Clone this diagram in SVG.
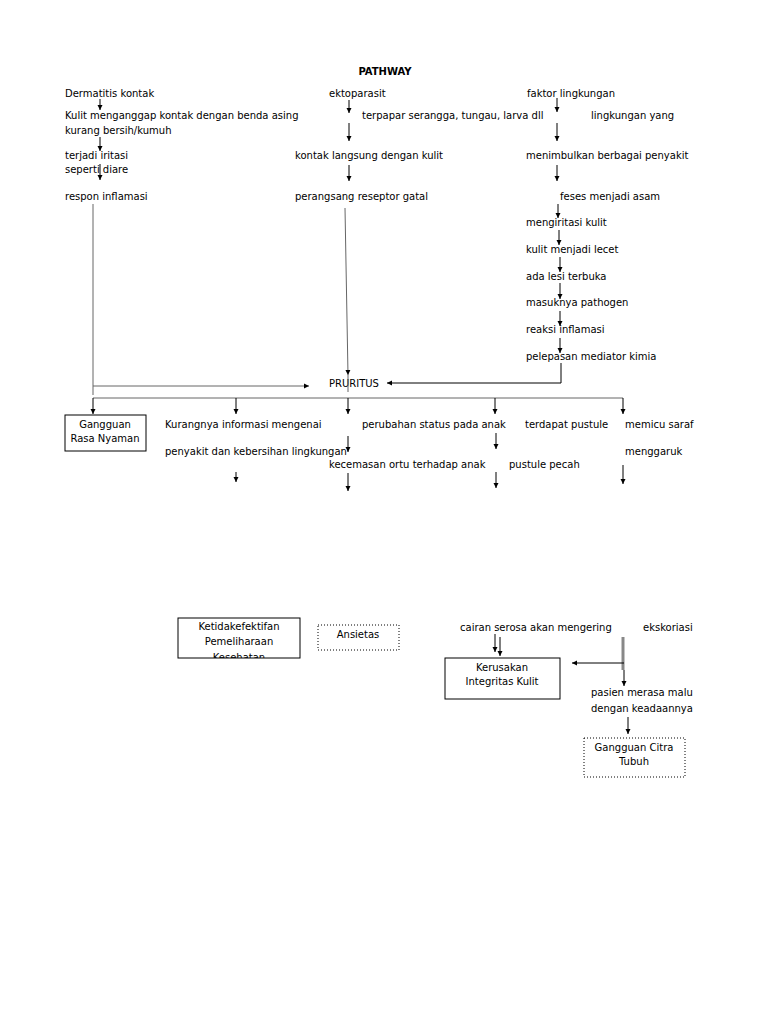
<svg xmlns="http://www.w3.org/2000/svg" width="768" height="1024" viewBox="0 0 768 1024">
<style>
text{font-family:"DejaVu Sans","Liberation Sans",sans-serif;font-size:10px;fill:#000}
.c{text-anchor:middle}
.b{font-weight:bold}
.ln{stroke:#000;stroke-width:1;fill:none}
.g{stroke:#666;stroke-width:1;fill:none}
.a{marker-end:url(#ah)}
.box{fill:#fff;stroke:#000;stroke-width:1}
.dot{fill:#fff;stroke:#000;stroke-width:1;stroke-dasharray:1,2}
</style>
<defs>
<marker id="ah" markerUnits="userSpaceOnUse" markerWidth="6" markerHeight="6" refX="5" refY="3" orient="auto"><path d="M0,0.5 L5,3 L0,5.5 z" fill="#000"/></marker>
<clipPath id="clipK"><rect x="178" y="618" width="122" height="40"/></clipPath>
</defs>
<rect width="768" height="1024" fill="#fff"/>
<g id="title"><text x="385" y="75" class="c b">PATHWAY</text></g>
<g id="n-dermatitis"><text x="65" y="97">Dermatitis kontak</text></g>
<g id="n-ekto"><text x="329" y="97">ektoparasit</text></g>
<g id="n-faktor"><text x="527" y="97">faktor lingkungan</text></g>
<g id="n-kulit"><text x="65" y="119">Kulit menganggap kontak dengan benda asing</text><text x="65" y="134">kurang bersih/kumuh</text></g>
<g id="n-terpapar"><text x="362" y="119">terpapar serangga, tungau, larva dll</text></g>
<g id="n-lingk"><text x="591" y="119">lingkungan yang</text></g>
<g id="n-iritasi"><text x="65" y="159">terjadi iritasi</text><text x="65" y="173">seperti diare</text></g>
<g id="n-kontak"><text x="295" y="159">kontak langsung dengan kulit</text></g>
<g id="n-menimbulkan"><text x="526" y="159">menimbulkan berbagai penyakit</text></g>
<g id="n-respon"><text x="65" y="200">respon inflamasi</text></g>
<g id="n-perangsang"><text x="295" y="200">perangsang reseptor gatal</text></g>
<g id="n-feses"><text x="560" y="200">feses menjadi asam</text></g>
<g id="n-mengiritasi"><text x="526" y="226">mengiritasi kulit</text></g>
<g id="n-lecet"><text x="526" y="253">kulit menjadi lecet</text></g>
<g id="n-lesi"><text x="526" y="280">ada lesi terbuka</text></g>
<g id="n-pathogen"><text x="526" y="306">masuknya pathogen</text></g>
<g id="n-reaksi"><text x="526" y="333">reaksi inflamasi</text></g>
<g id="n-mediator"><text x="526" y="360">pelepasan mediator kimia</text></g>
<g id="n-pruritus"><text x="329" y="387">PRURITUS</text></g>
<g id="n-rasa"><rect x="65" y="415" width="81" height="36" class="box"/><text x="105" y="428" class="c">Gangguan</text><text x="105" y="442" class="c">Rasa Nyaman</text></g>
<g id="n-kurang"><text x="165" y="428">Kurangnya informasi mengenai</text><text x="165" y="455">penyakit dan kebersihan lingkungan</text></g>
<g id="n-perubahan"><text x="362" y="428">perubahan status pada anak</text></g>
<g id="n-pustule"><text x="525" y="428">terdapat pustule</text></g>
<g id="n-memicu"><text x="625" y="428">memicu saraf</text></g>
<g id="n-kecemasan"><text x="329" y="468">kecemasan ortu terhadap anak</text></g>
<g id="n-pecah"><text x="509" y="468">pustule pecah</text></g>
<g id="n-garuk"><text x="625" y="455">menggaruk</text></g>
<g id="n-ketidak"><rect x="178" y="618" width="122" height="40" class="box"/><g clip-path="url(#clipK)"><text x="239" y="630" class="c">Ketidakefektifan</text><text x="239" y="645" class="c">Pemeliharaan</text><text x="239" y="661" class="c">Kesehatan</text></g></g>
<g id="n-ansietas"><rect x="318" y="625" width="81" height="25" class="dot"/><text x="358" y="638" class="c">Ansietas</text></g>
<g id="n-cairan"><text x="460" y="631">cairan serosa akan mengering</text></g>
<g id="n-ekskoriasi"><text x="643" y="631">ekskoriasi</text></g>
<g id="n-kerusakan"><rect x="445" y="658" width="115" height="41" class="box"/><text x="502" y="671" class="c">Kerusakan</text><text x="502" y="685" class="c">Integritas Kulit</text></g>
<g id="n-malu"><text x="591" y="696">pasien merasa malu</text><text x="591" y="712">dengan keadaannya</text></g>
<g id="n-citra"><rect x="584" y="738" width="101" height="39" class="dot"/><text x="634" y="751" class="c">Gangguan Citra</text><text x="634" y="765" class="c">Tubuh</text></g>
<g id="connectors">
<path d="M100,99 V110" class="ln a"/>
<path d="M100,137 V151" class="ln a"/>
<path d="M100,164 V180" class="ln a"/>
<path d="M349,100 V113" class="ln a"/>
<path d="M349,123 V141" class="ln a"/>
<path d="M349,165 V181" class="ln a"/>
<path d="M557,98 V112" class="ln a"/>
<path d="M557,123 V141" class="ln a"/>
<path d="M557,165 V181" class="ln a"/>
<path d="M558,204 V218" class="ln a"/>
<path d="M559,230 V245" class="ln a"/>
<path d="M560,257 V272" class="ln a"/>
<path d="M560,283 V299" class="ln a"/>
<path d="M560,311 V326" class="ln a"/>
<path d="M560,338 V353" class="ln a"/>
<path d="M561,363 V383 H387" class="ln a"/>
<path d="M93,204 V395" class="g"/>
<path d="M93,386 H309" class="g a"/>
<path d="M345,208 L348,375" class="g a"/>
<path d="M348,375 V392" class="g"/>
<path d="M93,398 H623" class="g"/>
<path d="M93,398 V414" class="ln a"/>
<path d="M236,398 V414" class="ln a"/>
<path d="M348,398 V414" class="ln a"/>
<path d="M495,398 V414" class="ln a"/>
<path d="M623,398 V414" class="ln a"/>
<path d="M348,436 V452" class="ln a"/>
<path d="M496,433 V449" class="ln a"/>
<path d="M236,472 V482" class="ln a"/>
<path d="M348,473 V491" class="ln a"/>
<path d="M496,472 V488" class="ln a"/>
<path d="M623,465 V484" class="ln a"/>
<path d="M495,634 V652" class="ln a"/>
<path d="M500,637 V656" class="ln a"/>
<path d="M623,637 V670" stroke="#888" stroke-width="3" fill="none"/>
<path d="M624,663 H572" class="ln a"/>
<path d="M624,670 V686" class="ln a"/>
<path d="M628,717 V734" class="ln a"/>
</g>
</svg>
